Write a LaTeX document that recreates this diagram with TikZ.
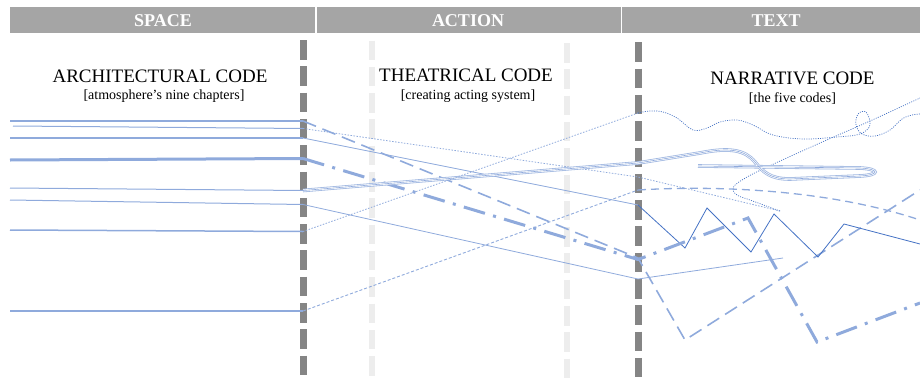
\documentclass[tikz,border=0pt]{standalone}
\usepackage{fontspec}
\setmainfont{Liberation Serif}
\definecolor{hg}{HTML}{A5A5A5}
\definecolor{barc}{HTML}{858585}
\definecolor{lbarc}{HTML}{EDEDED}
\definecolor{lb}{HTML}{8FAADC}
\definecolor{db}{HTML}{4472C4}
\begin{document}
\begin{tikzpicture}[x=1pt,y=-1pt,
  headtxt/.style={text=white, font=\bfseries\fontsize{18}{18}\selectfont, anchor=base, inner sep=0pt},
  titletxt/.style={font=\fontsize{19}{19}\selectfont, anchor=base, inner sep=0pt},
  subtxt/.style={font=\fontsize{14}{14}\selectfont, anchor=base, inner sep=0pt},
  darkbar/.style={barc, line width=6.5pt, dash pattern=on 19.5pt off 6.8pt},
  lightbar/.style={lbarc, line width=6pt, dash pattern=on 19.5pt off 6.8pt},
  hl/.style={lb, line width=#1},
  longdash/.style={lb, line width=1.6pt, dash pattern=on 14pt off 7pt},
  finedot/.style={lb, line width=0.8pt, dash pattern=on 1.5pt off 1.5pt},
  shortdash/.style={lb, line width=0.9pt, dash pattern=on 3pt off 2pt},
  curvedash/.style={lb, line width=1.3pt, dash pattern=on 8pt off 5pt},
  dashdotline/.style={lb, line width=3pt, dash pattern=on 22pt off 8.5pt on 3pt off 8.5pt},
  thinline/.style={lb, line width=0.8pt},
  zig/.style={db, line width=0.8pt},
  wavy/.style={db, line width=0.7pt, dash pattern=on 1pt off 1.3pt},
  triple/.style={lb!85, line width=3.6pt, postaction={draw=white, line width=2pt}, postaction={draw=lb, line width=0.6pt}}
]
\useasboundingbox (0,0) rectangle (920,380);
% header
\fill[hg] (10,7) rectangle (920,33);
\draw[white, line width=1.5pt] (316,7) -- (316,33);
\draw[white, line width=1.5pt] (621.5,7) -- (621.5,33);
\node[headtxt] (hspace) at (163,27) {SPACE};
\node[headtxt] (haction) at (468,27) {ACTION};
\node[headtxt] (htext) at (776,27) {TEXT};
% bars
\coordinate (bar1t) at (303.5,40);   \coordinate (bar1b) at (303.5,380);
\coordinate (bar2t) at (638.5,42.3); \coordinate (bar2b) at (638.5,380);
\coordinate (lbar1t) at (371.5,40.5); \coordinate (lbar1b) at (371.5,380);
\coordinate (lbar2t) at (566.5,43);  \coordinate (lbar2b) at (566.5,380);
\draw[lightbar] (lbar1t) -- (lbar1b);
\draw[lightbar] (lbar2t) -- (lbar2b);
\draw[darkbar] (bar1t) -- (bar1b);
\draw[darkbar] (bar2t) -- (bar2b);
% titles
\node[titletxt] (t1) at (160,82) {ARCHITECTURAL CODE};
\node[subtxt] (s1) at (164,99.5) {[atmosphere’s nine chapters]};
\node[titletxt] (t2) at (466,81) {THEATRICAL CODE};
\node[subtxt] (s2) at (468,99) {[creating acting system]};
\node[titletxt] (t3) at (792.5,84) {NARRATIVE CODE};
\node[subtxt] (s3) at (792.5,102.5) {[the five codes]};
% left coordinates
\coordinate (a1) at (10,121);  \coordinate (b1) at (303,121);
\coordinate (a2) at (13,126);  \coordinate (b2) at (303,128.5);
\coordinate (a3) at (10,138);  \coordinate (b3) at (303,138);
\coordinate (a4) at (10,160);  \coordinate (b4) at (303,158.5);
\coordinate (a5) at (10,188);  \coordinate (b5) at (303,190.5);
\coordinate (a6) at (10,200);  \coordinate (b6) at (303,204.5);
\coordinate (a7) at (10,230);  \coordinate (b7) at (303,231.5);
\coordinate (a8) at (10,311);  \coordinate (b8) at (303,311);
% middle coordinates (second bar)
\coordinate (m1) at (638,258);
\coordinate (m2) at (638,177);
\coordinate (m3) at (638,205);
\coordinate (m4) at (638,259.5);
\coordinate (m5) at (638,163);
\coordinate (m6) at (638,279);
\coordinate (m7) at (638,113);
\coordinate (m8) at (638,190);
% right coordinates
\coordinate (r1a) at (685,340); \coordinate (r1b) at (920,190);
\coordinate (r2a) at (780,211); \coordinate (r2e) at (920,98);
\coordinate (z1) at (685,248); \coordinate (z2) at (707,208); \coordinate (z3) at (751,252);
\coordinate (z4) at (774,214); \coordinate (z5) at (818,257); \coordinate (z6) at (844,224);
\coordinate (z7) at (920,244);
\coordinate (r4a) at (748,218); \coordinate (r4b) at (817,342); \coordinate (r4c) at (920,303);
\coordinate (r6a) at (783,258);
\coordinate (r8e) at (920,220);
% left horizontal lines
\draw[hl=1.2pt] (a1) -- (b1);
\draw[hl=1pt] (a2) -- (b2);
\draw[hl=1.2pt] (a3) -- (b3);
\draw[hl=3pt] (a4) -- (b4);
\draw[hl=1pt] (a5) -- (b5);
\draw[hl=1pt] (a6) -- (b6);
\draw[hl=1.5pt] (a7) -- (b7);
\draw[hl=2.5pt] (a8) -- (b8);
% A: long dashed
\draw[longdash] (b1) -- (m1) -- (r1a) -- (r1b);
% B: dotted with hairpin
\draw[finedot] (b2) -- (m2) -- (r2a);
\draw[wavy] plot[smooth, tension=0.6] coordinates {(780,211) (750,200) (737,195) (733,188) (742,180) (765,168) (820,143) (870,121) (920,98)};
% C: thin + zigzag
\draw[thinline] (b3) -- (m3);
\draw[zig] (m3) -- (z1) -- (z2) -- (z3) -- (z4) -- (z5) -- (z6) -- (z7);
% D: dash-dot
\draw[dashdotline] (b4) -- (m4) -- (r4a) -- (r4b) -- (r4c);
% E: triple hook
\draw[triple] (b5) -- (m5) -- (700,153) .. controls (730,147) and (745,150) .. (755,162)
  .. controls (763,172) and (770,179) .. (790,179) -- (860,176)
  .. controls (880,175) and (880,169) .. (860,168) -- (698,166);
% F: thin
\draw[thinline] (b6) -- (m6) -- (r6a);
% G: fine dotted + wavy
\draw[finedot] (b7) -- (m7);
\draw[wavy] plot[smooth, tension=0.6] coordinates {(638,113) (650,111) (663,112) (677,118) (693,130) (707,128) (720,122) (737,120) (753,125) (773,135) (803,139) (837,137) (860,134) (870,125) (866,112) (858,114) (856,125) (862,134) (875,136) (890,130) (902,119) (912,115) (920,114)};
% H: short dashes + dashed curve
\draw[shortdash] (b8) -- (m8);
\draw[curvedash] (m8) .. controls (720,185) and (830,190) .. (r8e);
\end{tikzpicture}
\end{document}
